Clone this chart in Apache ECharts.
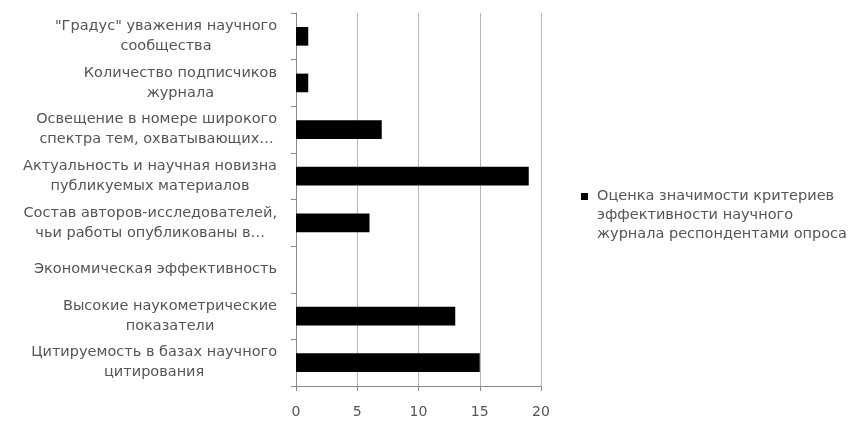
<!DOCTYPE html>
<html><head><meta charset="utf-8">
<script src="https://cdn.jsdelivr.net/npm/echarts@6/dist/echarts.min.js"></script>
<style>html,body{margin:0;padding:0;background:#fff}#c{width:855px;height:422px}</style>
</head><body><div id="c"></div>
<script>
const categories = [
  '"Градус" уважения научного\nсообщества',
  'Количество подписчиков\nжурнала',
  'Освещение в номере широкого\nспектра тем, охватывающих…',
  'Актуальность и научная новизна\nпубликуемых материалов',
  'Состав авторов-исследователей,\nчьи работы опубликованы в…',
  'Экономическая эффективность',
  'Высокие наукометрические\nпоказатели',
  'Цитируемость в базах научного\nцитирования'
];
const values = [1, 1, 7, 19, 6, 0, 13, 15];
const legendLines = ['Оценка значимости критериев', 'эффективности научного', 'журнала респондентами опроса'];
const xMin = 0, xMax = 20, xInterval = 5;

const FONT = 'DejaVu Sans';
const chart = echarts.init(document.getElementById('c'), null, {renderer: 'canvas'});
chart.setOption({
  animation: false,
  backgroundColor: '#fff',
  textStyle: {fontFamily: FONT},
  grid: {left: 296, right: 314, top: 13, bottom: 36, containLabel: false},
  legend: {
    show: true,
    left: 581, top: 149, padding: 0,
    itemWidth: 7, itemHeight: 7,
    icon: 'rect',
    formatter: () => '{t| }\n{t| }\n' + legendLines.map(l => '{s| }{t|' + l + '}').join('\n'),
    textStyle: {
      fontFamily: FONT, fontSize: 14.5, color: '#555', lineHeight: 19,
      rich: {
        t: {fontFamily: FONT, fontSize: 14.5, color: '#555', lineHeight: 19},
        s: {width: 4, fontSize: 14.5, lineHeight: 19}
      }
    }
  },
  xAxis: {
    type: 'value', min: xMin, max: xMax, interval: xInterval,
    axisLine: {show: true, lineStyle: {color: '#8a8a8a'}},
    axisTick: {show: true, length: 5, lineStyle: {color: '#8a8a8a'}},
    axisLabel: {fontFamily: FONT, fontSize: 14, color: '#555', margin: 19},
    splitLine: {show: true, lineStyle: {color: '#b5b5b5'}}
  },
  yAxis: {
    type: 'category', data: categories, inverse: true,
    axisLine: {show: true, lineStyle: {color: '#8a8a8a'}},
    axisTick: {show: true, length: 5, lineStyle: {color: '#8a8a8a'}},
    axisLabel: {
      margin: 19, align: 'right',
      formatter: v => v.split('\n').map(l => '{c|' + l + '}').join('\n'),
      rich: {c: {align: 'center', fontFamily: FONT, fontSize: 14.5, color: '#555', lineHeight: 20}}
    }
  },
  series: [{
    type: 'bar', name: legendLines.join(' '), data: values,
    barCategoryGap: '60%',
    itemStyle: {color: '#000'}
  }]
});
</script></body></html>
